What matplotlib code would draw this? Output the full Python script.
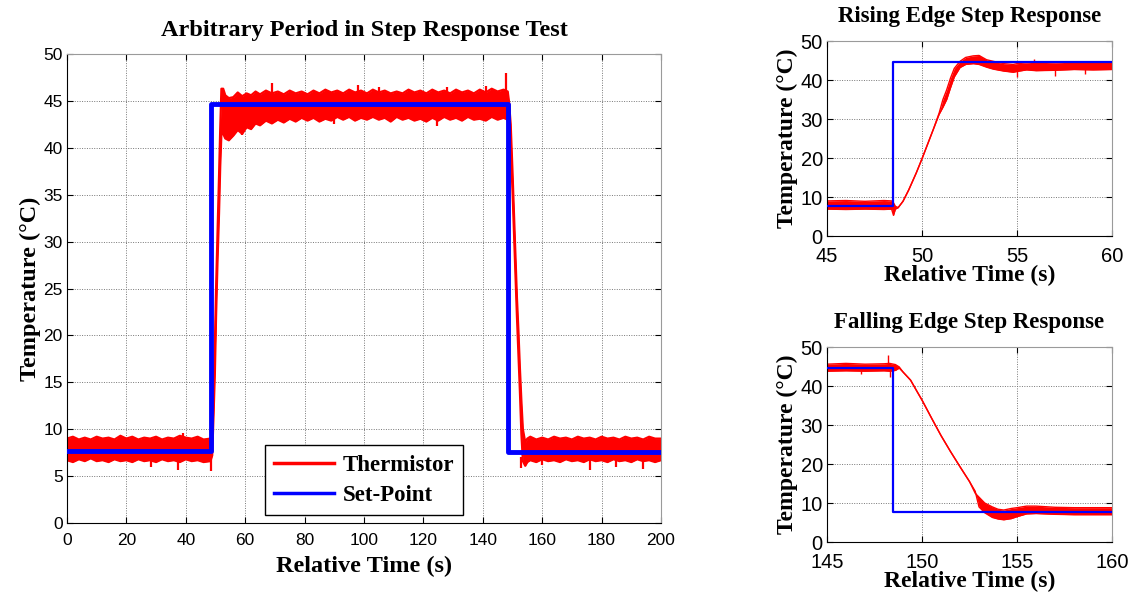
import matplotlib
matplotlib.use("Agg")
import matplotlib.pyplot as plt
from matplotlib.lines import Line2D

# ---------------- data ----------------
# Set-point (step profile)
setpoint_t = [0, 48.5, 48.5, 148.5, 148.5, 200]
setpoint_v = [7.7, 7.7, 44.7, 44.7, 7.6, 7.6]

# Thermistor envelope for the full run (time, lower edge, upper edge)
main_t = [0, 2, 4, 6, 8, 10, 12, 14, 16, 18, 20, 22, 24, 26, 28, 30, 32, 34, 36, 38, 40,
          42, 44, 46, 48.3,
          48.6, 48.9, 49.3, 49.8, 50.2, 50.7, 51.2, 51.6, 52.0, 52.6, 53.3, 54.5,
          56, 57.5, 59, 60.5, 62, 63.5, 65, 67, 69, 71, 73, 75, 77, 79, 81, 83, 85,
          87, 89, 91, 93, 95, 97, 99, 101, 103, 105, 107, 109, 111, 113, 115, 117,
          119, 121, 123, 125, 127, 129, 131, 133, 135, 137, 139, 141, 143, 145, 147, 148.4,
          148.8, 149.4, 150.0, 150.5, 151.0, 151.5, 152.0, 152.5, 153.0, 153.5,
          154.3, 155, 156, 158, 160, 162, 164, 166, 168, 170, 172, 174, 176, 178, 180,
          182, 184, 186, 188, 190, 192, 194, 196, 198, 200]
main_lo = [6.7, 6.5, 6.8, 6.6, 6.9, 6.6, 6.7, 6.5, 6.8, 6.6, 6.7, 6.5, 6.8, 6.6, 6.7, 6.5,
           6.8, 6.6, 6.7, 6.5, 6.8, 6.6, 6.7, 6.5, 6.6,
           6.9, 7.2, 11.0, 16.0, 22.0, 28.0, 33.0, 38.0, 41.5, 41.5, 41.0, 40.8,
           41.3, 41.9, 41.5, 42.2, 42.0, 42.6, 42.4, 42.9, 42.6, 43.0, 42.7, 43.1, 42.8,
           43.2, 42.9, 43.2, 42.8, 43.1, 42.9, 43.3, 43.0, 43.3, 42.9, 43.2, 43.0, 43.3,
           43.0, 43.2, 42.8, 43.3, 43.0, 43.2, 42.9, 43.1, 42.8, 43.2, 42.9, 43.3, 43.0,
           43.2, 42.9, 43.3, 43.0, 43.1, 42.9, 43.3, 43.0, 43.2, 43.0,
           42.0, 40.0, 35.5, 31.0, 26.5, 22.0, 18.0, 14.0, 9.5, 6.6,
           6.1, 6.5, 6.7, 6.5, 6.8, 6.6, 6.7, 6.5, 6.8, 6.6, 6.7, 6.5, 6.8, 6.6, 6.7,
           6.5, 6.8, 6.6, 6.7, 6.5, 6.8, 6.6, 6.7, 6.5, 6.7]
main_hi = [9.0, 9.2, 8.9, 9.1, 8.9, 9.2, 9.0, 9.1, 8.9, 9.3, 9.0, 9.2, 8.9, 9.1, 9.0, 9.2,
           8.9, 9.1, 9.0, 9.3, 9.1, 9.0, 9.2, 8.9, 9.0,
           9.0, 8.6, 13.0, 19.0, 25.0, 31.0, 37.0, 42.0, 46.3, 46.3, 45.6, 45.3,
           45.4, 45.9, 45.5, 45.8, 45.6, 46.0, 45.7, 46.1, 45.8, 46.0, 45.7, 46.1, 45.8,
           46.0, 45.7, 46.1, 45.8, 46.2, 45.9, 46.1, 45.8, 46.2, 45.9, 46.1, 45.8, 46.2,
           45.9, 46.1, 45.8, 46.0, 45.8, 46.2, 45.9, 46.1, 45.8, 46.2, 45.9, 46.1, 45.8,
           46.2, 45.9, 46.1, 45.8, 46.2, 45.9, 46.3, 46.0, 46.2, 46.0,
           45.0, 42.5, 37.5, 33.0, 28.5, 24.0, 20.5, 16.5, 13.0, 10.0,
           8.6, 9.0, 9.2, 8.9, 9.1, 8.9, 9.2, 9.0, 9.1, 8.9, 9.2, 9.0, 9.1, 8.9, 9.2,
           9.0, 9.1, 8.9, 9.2, 9.0, 9.1, 8.9, 9.2, 9.0, 9.0]
# isolated noise spikes (time, from, to)
main_spike_t = [18, 28.2, 37.5, 39.2, 48.5, 59, 69, 90, 98, 105, 124.5, 128, 141, 147.8,
                153, 160, 176, 185, 194]
main_spike_lo = [8.0, 6.0, 5.7, 8.0, 5.5, 41.4, 44.0, 42.5, 44.0, 44.0, 42.3, 44.0, 44.0, 44.0,
                 5.9, 6.2, 5.7, 6.0, 5.8]
main_spike_hi = [9.3, 7.0, 7.0, 9.6, 7.0, 43.0, 46.9, 44.0, 46.7, 46.5, 44.0, 46.5, 46.6, 48.0,
                 7.0, 7.0, 7.0, 7.0, 7.0]

# Rising-edge detail
rise_t = [45, 46, 47, 48, 48.4, 48.5, 48.6, 48.75, 49.0, 49.3, 49.7, 50.0, 50.3, 50.6,
          50.9, 51.1, 51.3, 51.5, 51.7, 52.0, 52.3, 52.7, 53.0, 53.4, 53.75, 54.3, 54.8,
          55.0, 55.5, 56.0, 57.0, 58.0, 59.0, 60.0]
rise_lo = [6.9, 6.8, 6.9, 6.8, 6.9, 5.3, 6.9, 7.3, 8.9, 11.8, 16.2, 19.8, 23.6, 27.4,
           31.2, 33.0, 35.0, 38.0, 40.8, 43.2, 44.0, 44.2, 44.0, 43.3, 42.8, 42.3, 42.0,
           42.2, 42.6, 42.4, 42.5, 42.7, 42.6, 42.7]
rise_hi = [9.0, 9.1, 8.9, 9.1, 9.0, 8.5, 7.6, 7.3, 8.9, 11.8, 16.2, 19.8, 23.6, 27.4,
           31.5, 35.0, 37.5, 40.5, 43.0, 44.8, 45.8, 46.2, 46.3, 45.2, 44.8, 44.2, 44.0,
           44.2, 44.4, 44.6, 44.4, 44.6, 44.7, 44.6]
rise_spike_t = [53.0, 55.0, 55.9, 57.0, 58.6]
rise_spike_lo = [44.0, 40.8, 44.0, 41.0, 41.5]
rise_spike_hi = [46.5, 43.0, 45.4, 43.0, 43.0]

# Falling-edge detail
fall_t = [145, 146, 147, 148, 148.3, 148.6, 148.8, 149.0, 149.4, 149.75, 150.0, 150.5,
          151.0, 151.5, 152.0, 152.5, 152.8, 153.0, 153.3, 153.7, 154.0, 154.3, 154.7,
          155.0, 155.5, 156.0, 157.0, 158.0, 159.0, 160.0]
fall_lo = [43.8, 43.9, 43.8, 43.9, 43.8, 44.0, 44.6, 43.6, 41.5, 38.5, 36.4, 31.8,
           27.3, 23.2, 19.3, 15.5, 13.0, 9.0, 7.5, 6.3, 5.9, 5.7, 6.0,
           6.5, 7.2, 7.3, 7.1, 7.0, 7.0, 7.0]
fall_hi = [45.6, 45.8, 45.6, 45.7, 45.8, 45.5, 44.9, 43.6, 41.5, 38.5, 36.4, 31.8,
           27.3, 23.2, 19.3, 15.5, 12.5, 11.5, 10.0, 9.0, 8.4, 8.2, 8.6,
           8.8, 9.2, 9.2, 8.9, 8.8, 8.8, 8.8]
fall_spike_t = [146.8, 148.2, 148.3]
fall_spike_lo = [43.0, 44.0, 42.3]
fall_spike_hi = [44.5, 48.0, 44.5]

# ---------------- styling ----------------
SERIF = ["Liberation Serif", "DejaVu Serif"]
SANS = ["Liberation Sans", "DejaVu Sans"]
RED = "#ff0000"
BLUE = "#0000ff"

fig = plt.figure(figsize=(11.33, 5.93), dpi=100)


def style_axes(ax, xlim, xticks, ylim, yticks, tick_size, xpad):
    ax.set_xlim(*xlim)
    ax.set_ylim(*ylim)
    ax.set_xticks(xticks)
    ax.set_yticks(yticks)
    ax.grid(True, color="#777777", linestyle=(0, (1, 1.5)), linewidth=0.7)
    ax.set_axisbelow(True)
    ax.tick_params(direction="in", top=True, right=True, length=4, width=0.8,
                   labelsize=tick_size, pad=3)
    ax.tick_params(axis="x", pad=xpad)
    for lab in ax.get_xticklabels() + ax.get_yticklabels():
        lab.set_family(SANS)
    for name, s in ax.spines.items():
        s.set_linewidth(0.8)
        if name in ("top", "right"):
            s.set_color("#9a9a9a")


def draw_trace(ax, t, lo, hi, st, slo, shi, lw):
    ax.fill_between(t, lo, hi, color=RED, linewidth=0, zorder=2)
    ax.plot(t, lo, color=RED, lw=lw, zorder=2)
    ax.plot(t, hi, color=RED, lw=lw, zorder=2)
    ax.vlines(st, slo, shi, color=RED, lw=lw, zorder=2)


# main axes
ax = fig.add_axes([0.0591, 0.1180, 0.5243, 0.7909])
style_axes(ax, (0, 200), range(0, 201, 20), (0, 50), range(0, 51, 5), 12.5, 7)
draw_trace(ax, main_t, main_lo, main_hi, main_spike_t, main_spike_lo, main_spike_hi, 1.6)
ax.plot(setpoint_t, setpoint_v, color=BLUE, lw=3.5, zorder=3)
ax.set_title("Arbitrary Period in Step Response Test", family=SERIF, weight="bold",
             fontsize=17.5, pad=13)
ax.set_xlabel("Relative Time (s)", family=SERIF, weight="bold", fontsize=17.5, labelpad=6)
ax.set_ylabel("Temperature (\u00b0C)", family=SERIF, weight="bold", fontsize=17.5, labelpad=2)
handles = [Line2D([], [], color=RED, lw=2.5), Line2D([], [], color=BLUE, lw=2.5)]
leg = ax.legend(handles, ["Thermistor", "Set-Point"], loc="lower left",
                bbox_to_anchor=(0.333, 0.017, 0.334, 0.153), mode="expand",
                prop={"family": SERIF, "weight": "bold", "size": 16.5},
                frameon=True, fancybox=False, edgecolor="black", framealpha=1,
                handlelength=2.6, handletextpad=0.4, borderpad=0.4, labelspacing=0.4,
                borderaxespad=0)
leg.get_frame().set_linewidth(1.0)

# rising edge
ax2 = fig.add_axes([0.7299, 0.6020, 0.2516, 0.3288])
style_axes(ax2, (45, 60), [45, 50, 55, 60], (0, 50), range(0, 51, 10), 14.5, 8)
draw_trace(ax2, rise_t, rise_lo, rise_hi, rise_spike_t, rise_spike_lo, rise_spike_hi, 1.0)
ax2.plot(setpoint_t, setpoint_v, color=BLUE, lw=1.6, zorder=3)
ax2.set_title("Rising Edge Step Response", family=SERIF, weight="bold", fontsize=16.5, pad=14)
ax2.set_xlabel("Relative Time (s)", family=SERIF, weight="bold", fontsize=17, labelpad=-1)
ax2.set_ylabel("Temperature (\u00b0C)", family=SERIF, weight="bold", fontsize=17, labelpad=2)

# falling edge
ax3 = fig.add_axes([0.7299, 0.0860, 0.2516, 0.3288])
style_axes(ax3, (145, 160), [145, 150, 155, 160], (0, 50), range(0, 51, 10), 14.5, 8)
draw_trace(ax3, fall_t, fall_lo, fall_hi, fall_spike_t, fall_spike_lo, fall_spike_hi, 1.0)
ax3.plot(setpoint_t, setpoint_v, color=BLUE, lw=1.6, zorder=3)
ax3.set_title("Falling Edge Step Response", family=SERIF, weight="bold", fontsize=16.5, pad=14)
ax3.set_xlabel("Relative Time (s)", family=SERIF, weight="bold", fontsize=17, labelpad=-1)
ax3.set_ylabel("Temperature (\u00b0C)", family=SERIF, weight="bold", fontsize=17, labelpad=2)

fig.savefig("out.png", dpi=100)
